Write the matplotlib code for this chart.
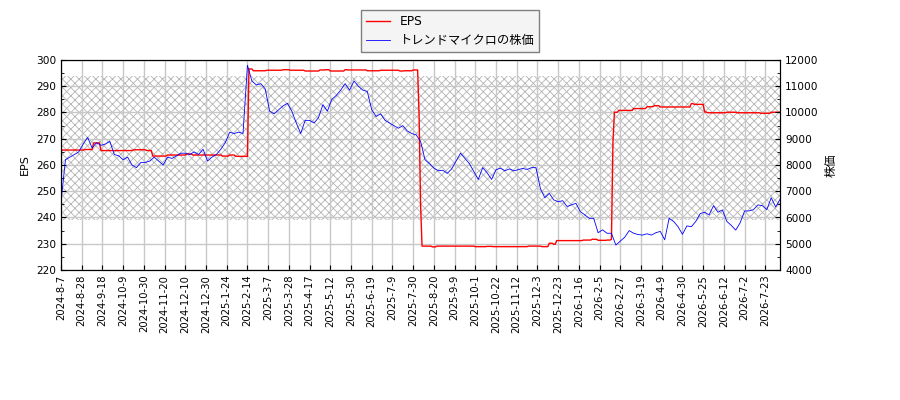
import numpy as np
import matplotlib
matplotlib.use("Agg")
from matplotlib import pyplot as plt

plt.rcParams['font.family'] = ['DejaVu Sans', 'Noto Sans CJK JP']
plt.rcParams['hatch.linewidth'] = 0.6

# x tick labels (every 14 trading days)
tick_labels = ['2024-8-7', '2024-8-28', '2024-9-18', '2024-10-9', '2024-10-30',
               '2024-11-20', '2024-12-10', '2024-12-30', '2025-1-24', '2025-2-14',
               '2025-3-7', '2025-3-28', '2025-4-17', '2025-5-12', '2025-5-30',
               '2025-6-19', '2025-7-9', '2025-7-30', '2025-8-20', '2025-9-9',
               '2025-10-1', '2025-10-22', '2025-11-12', '2025-12-3', '2025-12-23',
               '2026-1-16', '2026-2-5', '2026-2-27', '2026-3-19', '2026-4-9',
               '2026-4-30', '2026-5-25', '2026-6-12', '2026-7-2', '2026-7-23']
n_days = 487

# EPS as step levels and the number of trading days each level lasts
eps_levels = [265.1, 265.7, 265.9, 268.4, 265.5, 265.8, 265.5, 263.4, 263.8, 264.2,
              263.8, 263.4, 263.8, 263.3,
              296.6, 295.9, 296.1, 296.3, 296.1, 295.8, 296.2, 296.3, 295.8, 296.3,
              296.2, 295.9, 296.1, 295.8, 295.9, 296.2,
              279.0, 245.0,
              229.1, 228.8, 229.1, 228.9, 229.0, 228.9, 229.1, 228.9, 230.2, 229.8,
              231.2, 231.4, 231.7, 231.3, 231.4, 231.7,
              268.4,
              280.1, 280.8, 281.5, 282.2, 282.6, 282.1, 283.4, 283.1, 280.2, 279.9,
              280.1, 279.9, 279.7, 280.1]
eps_days = [1, 15, 6, 5, 22, 9, 4, 10, 13, 4,
            20, 5, 4, 9,
            3, 9, 11, 5, 10, 10, 4, 3, 10, 2,
            13, 9, 13, 3, 6, 4,
            1, 1,
            7, 3, 26, 8, 4, 24, 9, 5, 3, 2,
            18, 6, 4, 6, 3, 1,
            1,
            3, 10, 9, 5, 4, 21, 2, 7, 2, 13,
            7, 16, 7, 7]

# stock price, one value every 3 trading days
price_step = 3
price = [6600, 8200, 8300, 8400, 8500, 8800, 9050, 8650, 8850, 8750,
         8800, 8900, 8400, 8350, 8200, 8300, 8000, 7900, 8100, 8100,
         8150, 8300, 8150, 8000, 8300, 8250, 8350, 8450, 8450, 8400,
         8500, 8400, 8600, 8150, 8300, 8400, 8600, 8850, 9250, 9200,
         9250, 9200, 11800, 11200, 11050, 11100, 10900, 10050, 9950, 10100,
         10250, 10350, 10050, 9600, 9200, 9700, 9700, 9600, 9800, 10300,
         10050, 10500, 10650, 10850, 11100, 10850, 11200, 11000, 10850, 10800,
         10100, 9850, 9950, 9700, 9600, 9500, 9400, 9500, 9300, 9200,
         9150, 8900, 8200, 8050, 7880, 7780, 7800, 7680, 7850, 8150,
         8450, 8250, 8050, 7750, 7450, 7900, 7700, 7450, 7820, 7880,
         7780, 7850, 7780, 7820, 7870, 7830, 7900, 7900, 7100, 6750,
         6920, 6670, 6600, 6640, 6420, 6480, 6540, 6220, 6100, 5970,
         5970, 5420, 5530, 5400, 5400, 4950, 5100, 5250, 5500, 5400,
         5350, 5330, 5380, 5330, 5420, 5470, 5150, 5970, 5850, 5650,
         5360, 5680, 5650, 5850, 6150, 6200, 6100, 6450, 6200, 6290,
         5850, 5700, 5520, 5800, 6250, 6250, 6300, 6480, 6450, 6300,
         6750, 6400, 6700]

# hatched band (in EPS units)
band_lo, band_hi = 239, 294

eps = np.repeat(eps_levels, eps_days)
x_eps = np.arange(len(eps))
x_price = np.arange(len(price)) * price_step

fig = plt.figure(figsize=(9, 4), dpi=100)
ax = fig.add_axes([0.0678, 0.325, 0.799, 0.525])
ax2 = ax.twinx()

ax.axhspan(band_lo, band_hi, facecolor='white', edgecolor='#b4b4b4',
           hatch='xxxx', linewidth=0, zorder=0.3)
ax.set_axisbelow(True)
ax.grid(True, color='#c8c8c8', linewidth=1.0)

l1, = ax.plot(x_eps, eps, color='red', linewidth=1.0, label='EPS')
l2, = ax2.plot(x_price, price, color='blue', linewidth=0.6,
               label='トレンドマイクロの株価')

ax.set_xlim(0, n_days - 1)
ax.set_ylim(220, 300)
ax2.set_ylim(4000, 12000)
ax.set_yticks(np.arange(220, 301, 10))
ax.set_yticks(np.arange(220, 301, 5), minor=True)
ax2.set_yticks(np.arange(4000, 12001, 1000))
ax2.set_yticks(np.arange(4000, 12001, 500), minor=True)
ax.set_xticks(np.arange(len(tick_labels)) * 14)
ax.set_xticklabels(tick_labels, rotation=90)

for a in (ax, ax2):
    a.tick_params(direction='in', labelsize=7.6)
    a.tick_params(which='minor', direction='in')
ax.tick_params(axis='x', labelsize=7.2)
ax.set_ylabel('EPS', fontsize=8)
ax2.set_ylabel('株価', fontsize=8.5)

fig.legend(handles=[l1, l2], loc='upper center', bbox_to_anchor=(0.5, 0.99),
           fontsize=8.8, fancybox=False, edgecolor='#808080',
           facecolor='#f4f4f4', framealpha=1)

plt.savefig('out.png', dpi=100)
